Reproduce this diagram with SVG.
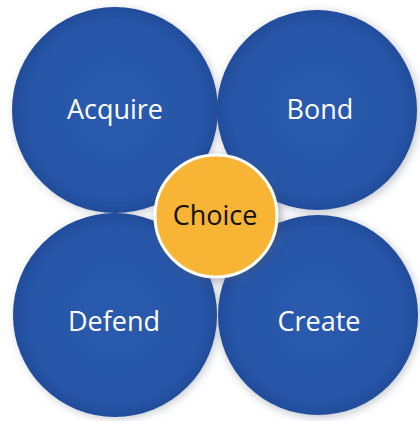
<svg xmlns="http://www.w3.org/2000/svg" width="420" height="421" viewBox="0 0 420 421">
  <defs>
    <radialGradient id="blueFill" cx="50%" cy="50%" r="50%">
      <stop offset="0" stop-color="#2a5aae"/>
      <stop offset="0.85" stop-color="#2756a8"/>
      <stop offset="1" stop-color="#214c9b"/>
    </radialGradient>
    <filter id="shade" x="-20%" y="-20%" width="140%" height="140%">
      <feGaussianBlur stdDeviation="5"/>
    </filter>
  </defs>
  <style>
    .petal { fill: url(#blueFill); }
    .shadow { fill: #6a7488; opacity: 0.45; filter: url(#shade); }
    .label { font-family: "Open Sans", "Noto Sans", sans-serif; font-size: 27px; fill: #ffffff; text-anchor: middle; }
    .hub { fill: #f8b434; stroke: #ffffff; stroke-width: 3; }
    .hub-label { font-family: "Open Sans", "Noto Sans", sans-serif; font-size: 27px; fill: #111111; text-anchor: middle; }
  </style>
  <rect width="420" height="421" fill="#ffffff"/>

  <!-- soft shadows under the four petals -->
  <g id="shadows">
    <circle class="shadow" cx="117" cy="112" r="102"/>
    <circle class="shadow" cx="319" cy="112" r="100"/>
    <circle class="shadow" cx="117" cy="317" r="101"/>
    <circle class="shadow" cx="319" cy="317" r="100"/>
  </g>

  <g id="connectors"></g>

  <g id="acquire">
    <circle class="petal" cx="115" cy="110" r="103"/>
    <text class="label" x="115" y="119">Acquire</text>
  </g>
  <g id="bond">
    <circle class="petal" cx="317" cy="110" r="100"/>
    <text class="label" x="320" y="119">Bond</text>
  </g>
  <g id="defend">
    <circle class="petal" cx="115" cy="315" r="102"/>
    <text class="label" x="114" y="331">Defend</text>
  </g>
  <g id="create">
    <circle class="petal" cx="318" cy="315" r="100"/>
    <text class="label" x="319" y="331">Create</text>
  </g>

  <g id="choice">
    <circle cx="219" cy="219" r="62" fill="#4a5670" opacity="0.5" filter="url(#shade)"/>
    <circle class="hub" cx="216" cy="216" r="61"/>
    <text class="hub-label" x="215" y="225">Choice</text>
  </g>
</svg>
